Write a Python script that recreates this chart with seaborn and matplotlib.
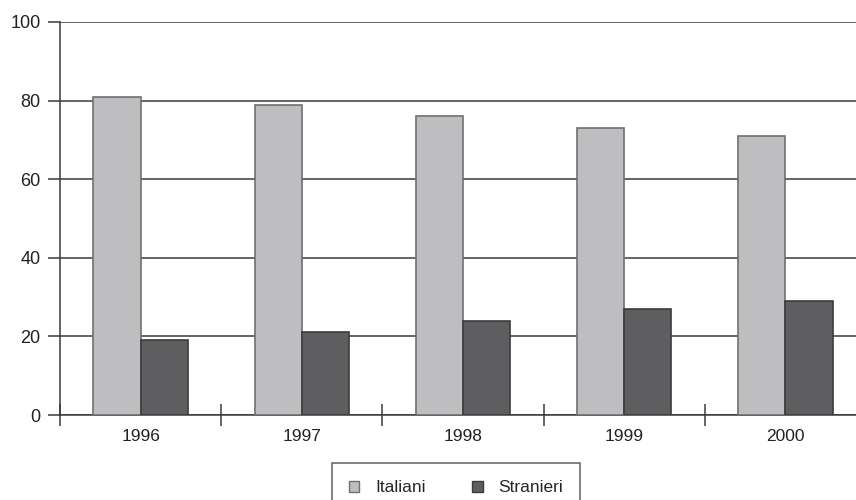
import pandas as pd
import matplotlib
matplotlib.use("Agg")
import matplotlib.pyplot as plt
import seaborn as sns

# dati (percentuali)
anni = ["1996", "1997", "1998", "1999", "2000"]
italiani = [81, 79, 76, 73, 71]
stranieri = [19, 21, 24, 27, 29]

df = pd.DataFrame({
    "Anno": anni * 2,
    "Valore": italiani + stranieri,
    "Gruppo": ["Italiani"] * len(anni) + ["Stranieri"] * len(anni),
})

sns.set_theme(style="white")
plt.rcParams["font.family"] = ["Liberation Sans", "DejaVu Sans"]

fig = plt.figure(figsize=(8.56, 5), dpi=100)
# l'asse prosegue oltre il bordo destro della figura
ax = fig.add_axes([60 / 856, 1 - 415 / 500, 806 / 856, 393 / 500])

colori = {"Italiani": "#bdbec1", "Stranieri": "#5e5e60"}
sns.barplot(data=df, x="Anno", y="Valore", hue="Gruppo", palette=colori,
            width=0.585, ax=ax, legend=False, zorder=3)

bordi = ["#707070"] * len(anni) + ["#3c3c3c"] * len(anni)
for patch, ec in zip(ax.patches, bordi):
    patch.set_edgecolor(ec)
    patch.set_linewidth(1.2)

ax.set_ylim(0, 100)
ax.set_xlim(-0.5, len(anni) - 0.5)
ax.set_yticks(range(0, 101, 20))
ax.yaxis.grid(True, color="#3a3a3a", linewidth=1.1, zorder=0)
ax.set_axisbelow(True)

for s in ["top", "right"]:
    ax.spines[s].set_visible(False)
for s in ["left", "bottom"]:
    ax.spines[s].set_color("#3a3a3a")
    ax.spines[s].set_linewidth(1.1)

ax.set_xticks([i - 0.5 for i in range(len(anni) + 1)], minor=True)
ax.tick_params(axis="x", which="minor", direction="inout", length=16,
               width=1.1, color="#3a3a3a", bottom=True)
ax.tick_params(axis="x", which="major", length=0, pad=10, labelsize=12.5,
               labelcolor="#222222")
ax.tick_params(axis="y", direction="out", length=9, width=1.1,
               color="#3a3a3a", left=True, pad=5, labelsize=13,
               labelcolor="#222222")
ax.set_xlabel("")
ax.set_ylabel("")

handles = [plt.Rectangle((0, 0), 1, 1, facecolor=colori[g],
                         edgecolor="#707070" if g == "Italiani" else "#3c3c3c",
                         linewidth=1.0) for g in ["Italiani", "Stranieri"]]
leg = fig.legend(handles, ["Italiani", "Stranieri"], loc="upper center",
                 bbox_to_anchor=(456 / 856, 1 - 463 / 500), ncol=2,
                 frameon=True, fancybox=False, fontsize=12.5,
                 handlelength=0.6, handleheight=0.6, columnspacing=2.7,
                 handletextpad=0.9, borderpad=1.0, borderaxespad=0)
leg.get_frame().set_edgecolor("#3a3a3a")
leg.get_frame().set_linewidth(1.1)

fig.savefig("out.png", dpi=100)
